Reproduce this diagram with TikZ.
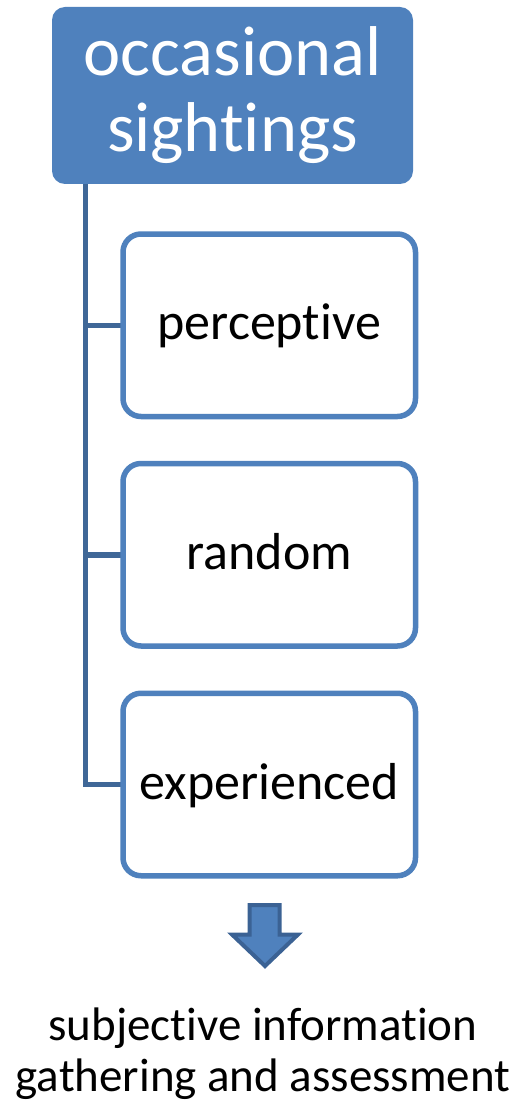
\documentclass[tikz,border=0pt]{standalone}
\usepackage{fontspec}
\setmainfont{Carlito}[Ligatures={NoCommon,NoContextual}]
\usepackage{tikz}

\definecolor{accent}{HTML}{4F81BD}
\definecolor{linkblue}{HTML}{3F6797}
\definecolor{arrowedge}{HTML}{3B6294}

\tikzset{
  headbox/.style={fill=accent,rounded corners=13pt,minimum width=361pt,minimum height=177pt,
    inner sep=0pt,text=white,align=center,font=\fontsize{70.5}{76}\selectfont},
  itembox/.style={draw=accent,fill=white,line width=5.5pt,rounded corners=18pt,
    minimum width=292.5pt,minimum height=182.5pt,inner sep=0pt,
    text height=35pt,text depth=6pt,font=\fontsize{52}{60}\selectfont},
  branch/.style={draw=linkblue,line width=5.5pt},
}

\begin{document}
\begin{tikzpicture}[x=1pt,y=1pt]
\useasboundingbox (0,0) rectangle (522,-1102);
\node[headbox] (sight) at (232.5,-95.5) {occasional\\sightings};
\coordinate (stem) at ([xshift=33.5pt]sight.south west);
\draw[branch] (stem) |- (269.25,-325.25);
\draw[branch] (stem) |- (269.25,-554.75);
\draw[branch] (stem) |- (269.25,-784.5);
\node[itembox] (perc) at (269.25,-325.25) {perceptive};
\node[itembox] (rand) at (269.25,-554.75) {random};
\node[itembox] (expe) at (269.25,-784.5) {experienced};
\filldraw[fill=accent,draw=arrowedge,line width=4pt,line join=miter]
  (249.7,-905) -- (279.7,-905) -- (279.7,-934.5) -- (298,-934.5) -- (265,-966)
  -- (232,-934.5) -- (249.7,-934.5) -- cycle;
\node[align=center,inner sep=0pt,font=\fontsize{47}{51}\selectfont] (subj) at (263,-1054)
  {subjective information\\gathering and assessment};
\end{tikzpicture}
\end{document}
